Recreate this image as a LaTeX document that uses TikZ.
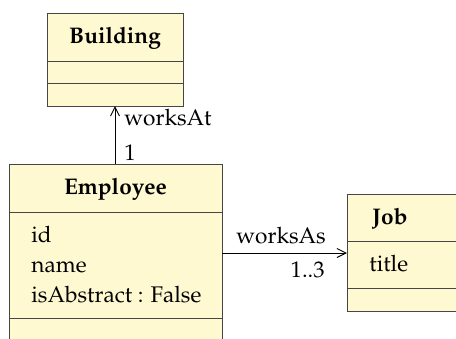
\documentclass[tikz,border=0pt]{standalone}
\usepackage[T1]{fontenc}
\usepackage{mathpazo}
\usetikzlibrary{arrows.meta}
\definecolor{classfill}{RGB}{255,249,210}
\definecolor{classline}{RGB}{70,70,70}
\begin{document}
\begin{tikzpicture}[x=0.5pt,y=-0.5pt,
  comp/.style={draw=classline,fill=classfill,line width=0.65pt,inner sep=0pt,anchor=north west},
  txt/.style={inner sep=0pt,font=\fontsize{11.3}{13.5}\selectfont},
  hdr/.style={txt,font=\fontsize{11.3}{13.5}\selectfont\bfseries},
  assoc/.style={draw=black,line width=0.5pt,-{Straight Barb[length=4.5pt,width=4.5pt]}}]
\useasboundingbox (0,0) rectangle (456,338);
\clip (0,0) rectangle (456,338);
% Building
\node[comp,minimum width=68pt,minimum height=24pt] (bh) at (47,13) {};
\node[comp,minimum width=68pt,minimum height=11pt] (ba) at (47,61) {};
\node[comp,minimum width=68pt,minimum height=11.5pt] (bo) at (47,83) {};
\node[hdr,anchor=base] (bt) at (115,43) {Building};
% Employee
\node[comp,minimum width=106.5pt,minimum height=24pt] (eh) at (9,164) {};
\node[comp,minimum width=106.5pt,minimum height=53pt] (ea) at (9,212) {};
\node[comp,minimum width=106.5pt,minimum height=12pt] (eo) at (9,318) {};
\node[hdr,anchor=base] (et) at (115.5,194) {Employee};
\node[txt,anchor=base west] (e1) at (31,242) {id};
\node[txt,anchor=base west] (e2) at (31,272) {name};
\node[txt,anchor=base west] (e3) at (31,302) {isAbstract : False};
% Job
\node[comp,minimum width=60pt,minimum height=23.5pt] (jh) at (347,194) {};
\node[comp,minimum width=60pt,minimum height=23.5pt] (ja) at (347,241) {};
\node[comp,minimum width=60pt,minimum height=11.5pt] (jo) at (347,288) {};
\node[hdr,anchor=base west] (jt) at (372,224) {Job};
\node[txt,anchor=base west] (j1) at (369,271) {title};
% associations
\coordinate (ea1) at (115,164);
\coordinate (bb1) at (115,106);
\draw[assoc] (ea1) -- (bb1);
\node[txt,anchor=base west] (l1) at (124,125) {worksAt};
\node[txt,anchor=base west] (m1) at (124,160) {1};
\coordinate (es) at (222,253);
\coordinate (jw) at (347,253);
\draw[assoc] (es) -- (jw);
\node[txt,anchor=base west] (l2) at (236,243) {worksAs};
\node[txt,anchor=base east] (m2) at (325,277) {1..3};
\end{tikzpicture}
\end{document}
